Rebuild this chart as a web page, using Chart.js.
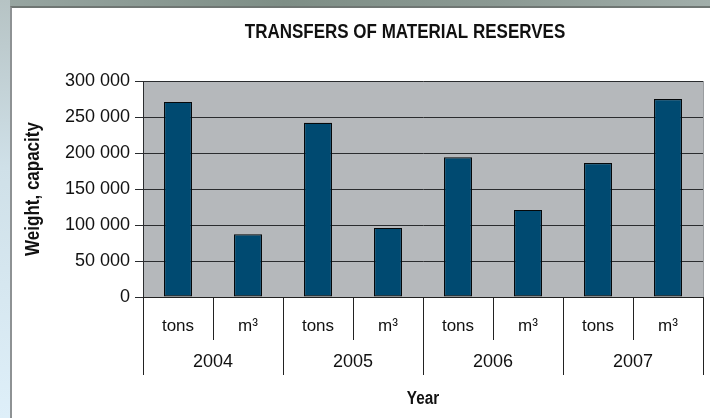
<!DOCTYPE html>
<html>
<head>
<meta charset="utf-8">
<script src="https://cdn.jsdelivr.net/npm/chart.js@4"></script>
<style>
  html, body { margin: 0; padding: 0; width: 710px; height: 418px; overflow: hidden; background: #fff; }
  #topband { position: absolute; left: 0; top: 0; width: 710px; height: 7px;
    background: linear-gradient(90deg, #98a6a2, #7e8e86 40%, #8b9993 70%, #a1aeaa); }
  #leftband { position: absolute; left: 0; top: 0; width: 10px; height: 418px;
    background: linear-gradient(180deg, #b6c3c4, #cfe0e8 40%, #deeff9); }
  #panel { position: absolute; left: 10px; top: 6px; right: 0; bottom: 0; background: #fff;
    border-left: 2px solid #8e9294; border-top: 2px solid #6f7673; }
  #c { position: absolute; left: 0; top: 0; }
</style>
</head>
<body>
<div id="topband"></div>
<div id="leftband"></div>
<div id="panel"></div>
<canvas id="c" width="710" height="418"></canvas>
<script>
const years = ['2004', '2005', '2006', '2007'];
const units = ['tons', 'm\u00b3'];
const values = [271000, 87000, 242000, 96000, 194000, 121000, 186000, 275000];
const yTicks = [0, 50000, 100000, 150000, 200000, 250000, 300000];

const labels = [];
years.forEach(function(y) {
    units.forEach(function(u) { labels.push(y + ' ' + u); });
});

const sans = "'Liberation Sans', Arial, sans-serif";

function fmt(v) {
    return String(v).replace(/\B(?=(\d{3})+(?!\d))/g, ' ');
}

// condensed bold text (no narrow font installed, so squeeze it)
function squeezed(ctx, text, x, y, size, rot) {
    ctx.save();
    ctx.translate(x, y);
    if (rot) ctx.rotate(rot);
    ctx.scale(0.85, 1);
    ctx.font = 'bold ' + size + 'px ' + sans;
    ctx.fillText(text, 0, 0);
    ctx.restore();
}

// plot background + hand-made two-level category axis + titles
const decor = {
    id: 'decor',
    beforeDraw: function(chart) {
        const a = chart.chartArea;
        const ctx = chart.ctx;
        ctx.save();
        ctx.fillStyle = '#b5b8bb';
        ctx.fillRect(a.left, a.top, a.right - a.left, a.bottom - a.top);
        ctx.restore();
    },
    afterDraw: function(chart) {
        const ctx = chart.ctx;
        const a = chart.chartArea;
        const x = chart.scales.x;
        const n = labels.length;
        const per = units.length;
        const edge = function(i) {
            if (i === 0) return x.left;
            if (i === n) return x.right;
            return (x.getPixelForValue(i - 1) + x.getPixelForValue(i)) / 2;
        };
        ctx.save();
        // right border of plot
        ctx.strokeStyle = '#9a9da0';
        ctx.lineWidth = 1;
        ctx.beginPath();
        ctx.moveTo(a.right + 0.5, a.top);
        ctx.lineTo(a.right + 0.5, a.bottom);
        ctx.stroke();

        ctx.strokeStyle = '#222';
        for (let i = 0; i <= n; i++) {
            const px = Math.round(edge(i)) + 0.5;
            ctx.beginPath();
            ctx.moveTo(px, a.bottom);
            ctx.lineTo(px, i % per === 0 ? 375 : 340);
            ctx.stroke();
        }
        ctx.fillStyle = '#111';
        ctx.textAlign = 'center';
        ctx.textBaseline = 'middle';
        ctx.font = '17px ' + sans;
        for (let i = 0; i < n; i++) {
            ctx.fillText(units[i % per], x.getPixelForValue(i), 326);
        }
        ctx.font = '18px ' + sans;
        years.forEach(function(y, j) {
            ctx.fillText(y, (edge(j * per) + edge(j * per + per)) / 2, 362);
        });
        squeezed(ctx, 'Year', (a.left + a.right) / 2, 399, 18);
        squeezed(ctx, 'TRANSFERS OF MATERIAL RESERVES', 405, 32, 20);
        squeezed(ctx, 'Weight, capacity', 33, (a.top + a.bottom) / 2, 20, -Math.PI / 2);
        ctx.restore();
    }
};

new Chart(document.getElementById('c'), {
    type: 'bar',
    data: {
        labels: labels,
        datasets: [{
            data: values,
            backgroundColor: '#004a71',
            borderColor: '#05080a',
            borderWidth: 1.2,
            borderSkipped: false,
            barPercentage: 0.4,
            categoryPercentage: 1
        }]
    },
    options: {
        responsive: false,
        animation: false,
        devicePixelRatio: 1,
        layout: { padding: { left: 0, right: 7, top: 81, bottom: 0 } },
        plugins: {
            legend: { display: false },
            tooltip: { enabled: false }
        },
        scales: {
            x: {
                offset: true,
                grid: { display: false },
                border: { display: true, color: '#222', width: 1 },
                ticks: { display: false },
                afterFit: function(s) { s.height = 121; }
            },
            y: {
                min: 0,
                max: 300000,
                afterBuildTicks: function(s) {
                    s.ticks = yTicks.map(function(v) { return { value: v }; });
                },
                afterFit: function(s) { s.width = 143; },
                grid: { color: '#2a2c2e', lineWidth: 1, tickLength: 8, drawTicks: true },
                border: { color: '#2a2c2e', width: 1 },
                ticks: {
                    color: '#111',
                    padding: 5,
                    font: { family: sans, size: 18 },
                    callback: function(v) { return fmt(v); }
                }
            }
        }
    },
    plugins: [decor]
});
</script>
</body>
</html>
